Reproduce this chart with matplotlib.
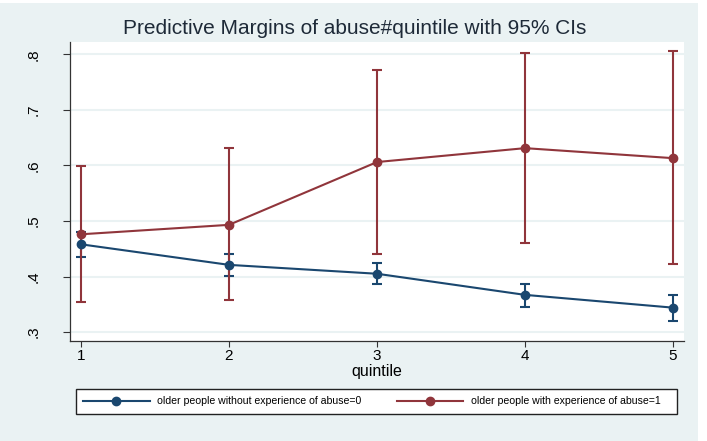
import matplotlib
matplotlib.use("Agg")
import matplotlib.pyplot as plt
from matplotlib.patches import Rectangle
from matplotlib.lines import Line2D

plt.rcParams['font.family'] = ['Liberation Sans', 'DejaVu Sans']

quintile = [1, 2, 3, 4, 5]
no_abuse = [0.458, 0.421, 0.405, 0.367, 0.344]
no_abuse_lo = [0.435, 0.401, 0.386, 0.346, 0.320]
no_abuse_hi = [0.481, 0.441, 0.425, 0.387, 0.367]
abuse = [0.476, 0.493, 0.606, 0.631, 0.613]
abuse_lo = [0.354, 0.357, 0.441, 0.460, 0.422]
abuse_hi = [0.598, 0.631, 0.772, 0.802, 0.805]
yticks = [0.3, 0.4, 0.5, 0.6, 0.7, 0.8]
ytick_labels = ['.3', '.4', '.5', '.6', '.7', '.8']
labels = ['older people without experience of abuse=0',
          'older people with experience of abuse=1']

navy = '#1a476f'
maroon = '#90353b'
bg = '#eaf2f3'

W, H = 707, 441
fig = plt.figure(figsize=(W / 100, H / 100), dpi=100)
fig.patch.set_facecolor('white')
fig.add_artist(Rectangle((0, 0), 698 / W, 1 - 3 / H, transform=fig.transFigure,
                         facecolor=bg, edgecolor='none', zorder=-10))

ax = fig.add_axes([70 / W, 1 - 341 / H, (684 - 70) / W, (341 - 42) / H])
ax.set_facecolor('white')

for y in yticks:
    ax.axhline(y, color=bg, lw=1.5, zorder=0)

def series(vals, lo, hi, color):
    yerr = [[v - l for v, l in zip(vals, lo)], [h - v for v, h in zip(vals, hi)]]
    ax.errorbar(quintile, vals, yerr=yerr, fmt='none', ecolor=color,
                elinewidth=1.5, capsize=3.5, capthick=1.5, zorder=2)
    ax.plot(quintile, vals, color=color, lw=1.5, marker='o', markersize=6,
            markerfacecolor=color, markeredgecolor=color, zorder=3)

series(no_abuse, no_abuse_lo, no_abuse_hi, navy)
series(abuse, abuse_lo, abuse_hi, maroon)

ax.set_xlim(0.926, 5.074)
ax.set_ylim(0.284, 0.822)
ax.set_xticks(quintile)
ax.set_xticklabels([str(q) for q in quintile], fontsize=11)
ax.set_yticks(yticks)
ax.set_yticklabels(ytick_labels, fontsize=11, rotation=90, va='center')
ax.tick_params(axis='y', direction='out', length=5, width=0.8, color='#333333', pad=16)
ax.tick_params(axis='x', direction='out', length=4, width=0.8, color='#333333', pad=2)
for s in ['top', 'right']:
    ax.spines[s].set_visible(False)
for s in ['left', 'bottom']:
    ax.spines[s].set_color('#333333')
    ax.spines[s].set_linewidth(0.9)
ax.set_xlabel('quintile', fontsize=11.5, labelpad=0.5)

fig.text(355 / W, 1 - 29 / H, 'Predictive Margins of abuse#quintile with 95% CIs',
         fontsize=15, ha='center', va='center', color='#1e2a38')

# legend frame
fig.add_artist(Rectangle((76 / W, 1 - 414 / H), (677 - 76) / W, 25 / H,
                         transform=fig.transFigure, facecolor='white',
                         edgecolor='#222222', lw=1.0, zorder=1))
colors = [navy, maroon]
starts = [83, 397]
for lab, col, x0 in zip(labels, colors, starts):
    h = Line2D([], [], color=col, lw=1.5, marker='o', markersize=6)
    leg = fig.legend([h], [lab], loc='center left',
                     bbox_to_anchor=(x0 / W, 1 - 401.5 / H), frameon=False,
                     fontsize=7.6, handlelength=6.3, handletextpad=0.75,
                     borderpad=0, borderaxespad=0)
    leg.set_zorder(2)

fig.savefig('out.png', dpi=100, facecolor=fig.get_facecolor())
